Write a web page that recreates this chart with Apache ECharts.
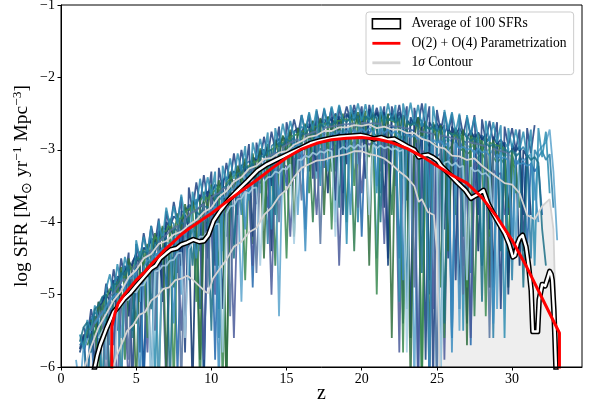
<!DOCTYPE html>
<html><head><meta charset="utf-8">
<script src="https://cdn.jsdelivr.net/npm/echarts@6.0.0/dist/echarts.min.js"></script>
<style>html,body{margin:0;padding:0;background:#fff}#c{width:595px;height:409px}</style>
</head><body><div id="c"></div>
<script>
// redshift sampling grid of the individual SFR curves
const zGrid = [1,1.25,1.5,1.75,2,2.25,2.5,2.75,3,3.25,3.5,3.75,4,4.25,4.5,4.75,5,5.25,5.5,5.75,6,6.25,6.5,6.75,7,7.25,7.5,7.75,8,8.25,8.5,8.75,9,9.25,9.5,9.75,10,10.25,10.5,10.75,11,11.25,11.5,11.75,12,12.25,12.5,12.75,13,13.25,13.5,13.75,14,14.25,14.5,14.75,15,15.25,15.5,15.75,16,16.25,16.5,16.75,17,17.25,17.5,17.75,18,18.25,18.5,18.75,19,19.25,19.5,19.75,20,20.25,20.5,20.75,21,21.25,21.5,21.75,22,22.25,22.5,22.75,23,23.25,23.5,23.75,24,24.25,24.5,24.75,25,25.25,25.5,25.75,26,26.25,26.5,26.75,27,27.25,27.5,27.75,28,28.25,28.5,28.75,29,29.25,29.5,29.75,30,30.25,30.5,30.75,31,31.25,31.5,31.75,32,32.25,32.5,32.75,33];

const sfrNavy = [null,-5.75,-5.55,-6.3, -5.35,-5.3,-5.85,-5.05, -5.0,-5.08,-6.3,-4.75, -4.78,-4.6,-5.3,-4.55, -4.45,-4.62,-6.2,-4.35, -4.25,-4.42,-4.2,-5.1, -4.15,-4.05,-4.22,-4.7, -3.98,-3.9,-4.07,-6.3, -3.82,-3.8,-3.72,-4.5, -3.62,-3.72,-3.55,-5.2, -3.42,-3.35,-3.47,-3.9, -3.22,-3.18,-3.27,-3.1, -3.75,-3.02,-3.0,-3.12, -4.4,-2.9,-2.85,-2.97, -2.82,-3.45,-2.75,-2.7, -2.82,-2.68,-3.3,-2.62, -2.7,-2.6,-2.73,-3.6, -2.58,-2.64,-2.55,-2.69, -3.2,-2.55,-2.5,-2.63, -2.52,-3.0,-2.5,-2.6, -2.48,-2.63,-3.8,-2.52, -2.5,-2.63,-2.55,-5.4, -2.58,-2.66,-2.58,-3.3, -2.62,-2.71,-6.3,-2.65, -2.73,-2.64,-4.1,-2.7, -2.79,-2.7,-5.2,-2.75, -2.83,-2.74,-2.86,-4.4, -2.82,-2.91,-2.82,-4.9, -2.9,-2.99,-2.9,-3.9, -2.95,-3.06,-4.6,-3.0, -3.1,-3.9,null,null, null,null,null,null, null];
const sfrBlue = [null,null,-5.8,-5.6, -5.5,-6.3,-5.3,-5.22, -5.28,-5.05,-5.7,-4.95, -4.88,-4.98,-4.78,-5.5, -4.68,-4.62,-6.3,-4.5, -4.58,-4.42,-4.5,-4.35, -4.9,-4.3,-4.22,-6.1, -4.15,-4.1,-4.22,-4.02, -4.12,-5.2,-3.95,-3.9, -3.8,-5.9,-3.7,-3.64, -3.7,-3.52,-4.3,-3.42, -3.38,-3.46,-3.3,-4.9, -3.22,-3.18,-3.28,-3.8, -3.12,-3.05,-3.02,-3.12, -3.5,-2.96,-2.9,-3.02, -2.88,-4.1,-2.83,-2.92, -2.8,-2.78,-3.25,-2.75, -2.85,-2.72,-2.72,-3.6, -2.7,-2.8,-2.68,-2.68, -4.2,-2.66,-2.78,-2.66, -2.68,-3.3,-2.66,-2.8, -2.68,-2.7,-4.5,-2.7, -2.84,-2.72,-2.74,-6.3, -2.76,-2.9,-5.0,-2.78, -2.8,-2.95,-2.82,-2.84, -5.6,-2.86,-3.0,-2.88, -2.9,-5.7,-2.92,-3.06, -2.95,-2.97,-4.6,-3.0, -3.14,-3.02,-3.05,-4.7, -3.08,-3.22,-3.12,-3.14, -4.4,-3.18,-3.3,-3.22, -3.9,null,null,null, null];
const sfrGreen = [null,null,null,-5.7, -5.55,-5.52,-5.38,-6.3, -5.22,-5.18,-5.08,-5.1, -4.95,-5.9,-4.85,-4.85, -5.4,-4.7,-4.7,-4.6, -4.6,-4.5,-6.3,-4.43, -4.45,-4.32,-4.9,-4.28, -4.3,-4.17,-4.24,-4.1, -4.16,-6.3,-3.98,-4.02, -3.88,-3.9,-4.6,-3.72, -6.3,-3.6,-3.66,-3.5, -3.55,-3.42,-3.46,-4.3, -3.3,-3.36,-3.22,-3.28, -3.16,-4.6,-3.1,-3.16, -3.02,-3.5,-3.0,-3.04, -2.94,-3.0,-2.9,-4.0, -2.86,-2.92,-2.84,-2.9, -3.3,-2.8,-2.86,-2.78, -2.84,-2.76,-4.4,-2.82, -2.75,-2.82,-3.1,-2.76, -2.82,-2.76,-2.84,-2.78, -3.9,-2.78,-2.86,-2.8, -2.88,-5.6,-2.84,-2.92, -6.3,-2.88,-2.95,-2.9, -2.97,-4.9,-2.93,-3.0, -2.95,-3.9,-3.02,-2.98, -3.06,-3.02,-5.3,-3.1, -3.05,-3.14,-4.2,-3.1, -3.18,-3.12,-3.2,-4.9, -3.18,-3.26,-3.8,null, null,null,null,null, null,null,null,null, null];
const sfrLight = [-5.9,-6.3,-5.72,-5.6, -5.48,-5.4,-5.3,-5.22, -5.9,-5.08,-5.0,-4.95, -5.6,-4.82,-4.75,-4.72, -4.65,-5.1,-4.6,-4.52, -4.45,-4.42,-6.3,-4.35, -4.28,-4.3,-4.2,-4.18, -5.0,-4.1,-4.08,-4.02, -3.98,-4.0,-6.3,-3.88, -3.8,-3.82,-3.7,-4.4, -3.58,-3.56,-3.48,-3.45, -5.1,-3.35,-3.32,-3.28, -3.22,-3.6,-3.15,-3.12, -3.1,-3.05,-5.3,-3.0, -2.98,-2.95,-2.92,-3.9, -2.86,-2.9,-2.8,-2.84, -3.4,-2.78,-2.76,-2.8, -2.74,-4.0,-2.72,-2.75, -2.7,-2.74,-2.69,-3.2, -2.66,-2.72,-2.65,-2.71, -4.5,-2.7,-2.73,-2.68, -2.72,-3.5,-2.7,-2.76, -2.74,-2.79,-6.3,-2.76, -2.8,-2.84,-2.79,-3.9, -6.3,-2.84,-2.88,-2.86, -2.88,-2.92,-5.5,-2.9, -2.94,-2.97,-2.93,-3.8, -2.96,-3.03,-2.99,-3.06, -5.2,-3.03,-3.09,-3.06, -3.1,-4.3,-3.1,-3.15, -3.1,-3.06,-3.7,-3.02, -2.95,-2.9,-2.72,-3.3, -4.25];
const sfrSlate = [null,null,null,null, -5.7,-5.58,-6.3,-5.45, -5.38,-5.28,-5.25,-6.3, -5.08,-5.1,-6.3,-4.92, -4.94,-4.82,-4.84,-5.8, -4.68,-4.7,-4.58,-4.62, -6.3,-4.48,-4.5,-4.4, -5.5,-4.33,-4.35,-4.23, -4.26,-4.18,-5.9,-4.14, -4.02,-5.0,-3.93,-3.92, -3.8,-3.82,-5.6,-3.66, -3.66,-3.56,-3.58,-4.6, -3.43,-3.46,-3.36,-3.39, -5.0,-3.26,-3.29,-3.2, -3.23,-4.2,-3.12,-3.15, -3.06,-3.1,-3.03,-3.06, -3.9,-2.98,-3.02,-2.96, -3.0,-2.93,-4.6,-2.97, -2.9,-2.95,-2.88,-2.94, -3.6,-2.88,-2.93,-2.9, -2.94,-2.9,-4.3,-2.95, -2.92,-2.97,-5.8,-2.94, -3.0,-2.97,-3.02,-6.3, -3.0,-3.07,-3.03,-5.2, -3.09,-3.05,-5.9,-3.12, -3.1,-3.16,-3.13,-4.6, -3.2,-5.6,-3.18,-3.24, -3.23,-3.28,-4.9,-3.28, -3.35,-3.32,-3.9,null, null,null,null,null, null,null,null,null, null,null,null,null, null];
const sfrTeal = [null,-5.65,-5.45,-5.38, -5.8,-5.2,-5.15,-5.03, -5.0,-6.3,-4.86,-4.85, -4.7,-4.73,-4.6,-5.6, -4.5,-4.52,-4.4,-4.43, -5.2,-4.28,-4.3,-4.2, -4.22,-6.3,-4.08,-4.12, -4.0,-4.04,-3.93,-4.6, -3.86,-3.9,-3.78,-3.79, -5.5,-3.64,-3.63,-3.53, -3.5,-3.43,-4.5,-3.33, -3.32,-3.23,-3.26,-3.18, -3.6,-3.08,-3.1,-3.02, -3.0,-3.9,-2.9,-2.94, -2.85,-2.89,-2.82,-3.3, -2.76,-2.79,-2.71,-2.74, -3.1,-2.64,-2.69,-2.62, -2.66,-2.6,-3.8,-2.58, -2.62,-2.55,-2.59,-2.53, -2.9,-2.54,-2.58,-2.52, -2.57,-4.0,-2.53,-2.6, -2.55,-2.62,-2.57,-3.4, -2.6,-2.66,-2.62,-2.68, -4.7,-2.65,-2.72,-2.68, -2.74,-2.7,-5.4,-2.74, -2.8,-2.76,-2.83,-4.2, -2.81,-2.88,-2.83,-2.92, -5.1,-2.9,-2.96,-2.92, -3.0,-4.4,-2.97,-3.05, -3.0,-3.09,-3.04,-4.9, -3.07,-3.14,-3.1,-3.18, -4.1,-4.6,null,null, null];
const sfrSteel = [null,null,null,null, null,-5.4,-5.32,-5.26, -5.17,-5.08,-5.03,-4.98, -6.3,-4.87,-4.78,-4.77, -4.68,-6.3,-4.62,-4.53, -4.52,-4.46,-4.42,-4.36, -4.37,-4.28,-5.4,-4.24, -4.16,-4.17,-4.08,-4.1, -4.5,-3.96,-3.98,-3.88, -3.87,-3.78,-6.3,-3.66, -3.64,-3.56,-3.55,-3.46, -3.47,-4.1,-3.33,-3.35, -3.26,-3.27,-3.18,-3.2, -3.12,-3.15,-3.7,-3.03, -3.05,-2.98,-2.99,-2.92, -2.95,-4.4,-2.86,-2.89, -2.82,-2.85,-2.8,-3.3, -2.76,-2.8,-2.74,-2.79, -2.73,-3.9,-2.72,-2.77, -2.71,-2.76,-2.7,-2.76, -3.5,-2.71,-2.77,-2.72, -2.78,-2.74,-2.8,-4.8, -2.78,-2.83,-2.8,-2.85, -2.82,-2.88,-6.3,-2.86, -2.9,-2.88,-2.95,-2.9, -5.8,-2.92,-2.98,-2.96, -3.0,-2.98,-3.05,-2.98, -3.04,-3.02,-3.08,-5.4, -3.06,-3.12,-3.1,-3.15, -4.2,-3.14,-3.2,-3.18, -3.22,-3.2,-3.5,-4.0, null,null,null,null, null];
const sfrPale = [null,null,null,null, null,null,-5.6,-5.5, -5.44,-5.34,-6.3,-5.2, -5.16,-5.08,-5.07,-4.96, -4.97,-4.88,-4.87,-4.76, -6.3,-4.68,-4.67,-4.6, -4.6,-4.53,-4.52,-4.43, -4.42,-5.6,-4.37,-4.28, -4.28,-4.2,-4.2,-4.13, -4.12,-4.03,-4.02,-5.8, -3.88,-3.78,-3.77,-3.68, -3.67,-3.58,-3.6,-3.53, -3.52,-4.6,-3.44,-3.38, -3.37,-3.3,-3.32,-3.26, -3.27,-3.2,-4.3,-3.14, -3.14,-3.08,-3.1,-3.04, -3.07,-3.02,-3.04,-3.0, -3.02,-4.2,-3.0,-2.96, -2.99,-2.94,-2.98,-2.93, -2.97,-2.93,-3.9,-2.93, -2.98,-2.94,-2.98,-2.96, -3.0,-2.98,-3.02,-3.0, -5.8,-3.02,-3.07,-3.04, -3.1,-3.08,-3.14,-3.1, -3.16,-6.3,-3.18,-3.16, -3.22,-3.18,-3.24,-3.22, -4.8,-3.24,-3.3,-3.28, -3.34,-3.32,-3.38,-4.0, null,null,null,null, null,null,null,null, null,null,null,null, null,null,null,null, null];
const sfrDeep = [null,-5.8,-5.6,-5.45, -5.38,-5.95,-5.15,-5.12, -4.95,-4.98,-4.8,-5.5, -4.68,-4.7,-4.55,-4.6, -4.42,-5.8,-4.35,-4.4, -4.22,-4.27,-4.12,-4.9, -4.0,-4.06,-3.92,-3.97, -4.6,-3.8,-3.84,-3.72, -3.75,-3.62,-6.2,-3.58, -3.6,-3.48,-3.52,-3.42, -4.2,-3.35,-3.3,-3.36, -3.22,-3.27,-3.6,-3.1, -3.15,-3.03,-3.08,-2.96, -3.5,-2.9,-2.95,-2.84, -2.86,-2.76,-3.4,-2.72, -2.75,-2.66,-2.7,-2.6, -3.3,-2.58,-2.64,-2.55, -2.6,-2.5,-2.58,-3.9, -2.5,-2.58,-2.46,-2.56, -2.48,-3.4,-2.44,-2.55, -2.5,-2.58,-2.48,-4.6, -2.52,-2.6,-2.48,-2.62, -3.7,-2.55,-2.65,-2.56, -2.6,-5.9,-2.62,-2.7, -2.64,-2.73,-2.66,-4.5, -2.68,-2.78,-2.7,-2.8, -5.4,-2.74,-2.84,-2.76, -2.86,-2.78,-4.1,-2.82, -2.92,-2.86,-2.95,-5.0, -2.92,-3.02,-2.95,-3.9, -3.1,null,null,null, null,null,null,null, null];
const sfrGreen2 = [null,null,-5.7,-5.5, -5.45,-5.3,-6.3,-5.15, -5.05,-4.92,-4.95,-4.82, -6.3,-4.7,-4.62,-4.66, -4.52,-4.48,-4.38,-5.6, -4.32,-4.2,-4.25,-4.14, -4.12,-4.0,-6.3,-3.95, -3.95,-3.85,-3.82,-3.78, -5.1,-3.7,-3.63,-3.68, -3.6,-3.56,-3.5,-6.3, -3.46,-3.4,-3.36,-3.33, -3.3,-4.8,-3.22,-3.18, -3.16,-3.12,-3.9,-3.02, -3.0,-2.96,-2.94,-2.9, -4.5,-2.82,-2.8,-2.78, -2.76,-2.72,-3.6,-2.68, -2.68,-2.64,-2.65,-2.62, -4.1,-2.6,-2.6,-2.58, -2.58,-2.6,-3.5,-2.57, -2.56,-2.58,-2.56,-2.58, -5.0,-2.58,-2.6,-2.58, -2.6,-2.62,-2.6,-5.8, -2.64,-2.66,-2.64,-2.68, -6.3,-2.7,-2.7,-2.72, -2.74,-2.76,-5.6,-2.76, -2.78,-2.8,-2.8,-2.82, -4.9,-2.84,-2.85,-2.87, -2.88,-5.3,-2.9,-2.92, -2.94,-2.96,-2.98,-4.4, -3.0,-3.6,null,null, null,null,null,null, null,null,null,null, null];
const sfrCyan = [null,-5.7,-5.62,-6.3, -5.32,-5.25,-5.28,-5.05, -5.05,-5.7,-4.82,-4.76, -4.8,-4.62,-4.65,-5.2, -4.48,-4.5,-4.36,-4.35, -6.3,-4.2,-4.22,-4.08, -4.1,-3.98,-4.02,-4.7, -3.85,-3.86,-3.76,-3.8, -3.68,-4.4,-3.62,-3.58, -3.55,-3.5,-5.6,-3.42, -3.38,-3.4,-3.3,-3.32, -3.9,-3.2,-3.16,-3.2, -3.08,-3.1,-3.0,-4.3, -2.95,-2.9,-2.92,-2.82, -2.85,-3.5,-2.75,-2.76, -2.68,-2.72,-2.64,-3.1, -2.6,-2.66,-2.58,-2.62, -2.55,-3.3,-2.54,-2.58, -2.52,-2.58,-2.5,-4.0, -2.5,-2.57,-2.49,-2.58, -2.52,-3.6,-2.5,-2.6, -2.54,-2.62,-2.52,-2.65, -5.2,-2.58,-2.66,-2.6, -2.68,-2.62,-4.8,-2.64, -2.72,-2.66,-2.76,-2.68, -5.6,-2.72,-2.8,-2.74, -2.82,-4.7,-2.78,-2.85, -2.8,-2.9,-2.84,-5.6, -2.88,-2.95,-2.9,-2.98, -4.8,-2.94,-3.02,-2.96, -3.06,-4.5,-3.0,-3.1, -3.02,-3.14,-3.06,-3.8, null];
const sfrIndigo = [null,null,null,null, -5.5,-5.38,-5.3,-5.22, -6.3,-5.02,-4.98,-4.9, -4.82,-4.78,-5.9,-4.65, -4.6,-4.54,-4.5,-4.46, -4.38,-5.5,-4.28,-4.22, -4.18,-4.12,-4.08,-4.05, -6.3,-3.95,-3.9,-3.86, -3.84,-3.78,-3.75,-4.9, -3.66,-3.62,-3.6,-3.54, -3.52,-5.3,-3.44,-3.4, -3.37,-3.33,-3.3,-3.26, -4.7,-3.18,-3.14,-3.1, -3.07,-3.04,-4.0,-2.96, -2.93,-2.9,-2.88,-2.85, -3.7,-2.8,-2.78,-2.76, -2.74,-4.3,-2.7,-2.69, -2.68,-2.67,-2.66,-2.65, -2.65,-2.64,-2.64,-3.8, -2.63,-2.63,-2.64,-2.63, -2.64,-2.64,-3.2,-2.66, -2.67,-2.68,-2.68,-2.7, -2.7,-2.72,-4.9,-2.74, -2.75,-2.76,-2.77,-2.78, -6.3,-2.8,-2.81,-2.82, -2.84,-2.85,-2.86,-5.0, -2.88,-2.9,-2.91,-2.92, -2.94,-2.95,-5.6,-2.98, -3.0,-3.02,-3.03,-3.05, -4.2,null,null,null, null,null,null,null, null,null,null,null, null];
const sfrMidnight = [null,null,-5.45,-5.6, -5.2,-5.45,-5.1,-5.25, -4.85,-5.05,-4.65,-4.95, -4.5,-4.8,-4.42,-6.3, -4.3,-4.55,-4.15,-4.45, -4.05,-4.3,-3.95,-4.9, -3.85,-4.1,-3.72,-4.0, -3.65,-5.8,-3.52,-3.85, -3.45,-3.75,-3.35,-3.7, -3.3,-4.6,-3.25,-3.55, -3.18,-3.45,-3.05,-3.38, -3.0,-3.3,-2.92,-4.2, -2.9,-3.15,-2.82,-3.08, -2.75,-3.0,-2.68,-3.6, -2.62,-2.85,-2.58,-2.8, -2.52,-2.76,-2.5,-3.4, -2.46,-2.7,-2.44,-2.66, -2.42,-3.7,-2.4,-2.62, -2.4,-2.6,-2.38,-2.62, -2.4,-3.1,-2.38,-2.6, -2.42,-2.62,-2.4,-4.5, -2.4,-2.62,-2.38,-2.66, -2.4,-5.6,-2.42,-2.68, -2.36,-2.7,-2.4,-6.3, -2.45,-2.75,-2.48,-2.78, -2.5,-4.8,-2.52,-2.8, -2.55,-2.82,-2.52,-3.9, -2.58,-2.88,-2.6,-2.9, -2.62,-5.2,-2.68,-2.95, -2.7,-3.0,-2.72,-4.4, -2.7,-3.05,-2.66,null, null,null,null,null, null];
const sfrOcean = [null,-5.55,-5.75,-5.35, -5.5,-5.15,-5.35,-6.3, -4.92,-4.72,-5.0,-4.58, -4.85,-4.48,-4.7,-5.5, -4.25,-4.5,-4.2,-4.45, -4.05,-6.3,-3.98,-4.25, -3.8,-4.05,-3.78,-4.02, -3.62,-3.95,-4.8,-3.58, -3.82,-3.4,-3.7,-3.38, -3.62,-3.3,-5.2,-3.22, -3.45,-3.12,-3.4,-3.05, -3.3,-2.95,-3.7,-2.9, -3.12,-2.85,-3.1,-2.76, -4.1,-2.7,-2.95,-2.64, -2.88,-2.6,-2.82,-3.2, -2.52,-2.76,-2.48,-2.72, -2.44,-3.5,-2.42,-2.68, -2.4,-2.62,-2.38,-2.6, -4.3,-2.38,-2.6,-2.36, -2.6,-2.37,-2.62,-2.38, -3.6,-2.4,-2.64,-2.36, -2.6,-2.38,-5.1,-2.36, -2.62,-2.35,-2.66,-2.38, -2.68,-2.36,-3.8,-2.4, -2.7,-6.3,-2.45,-2.72, -2.48,-2.76,-2.5,-5.5, -2.52,-2.8,-2.55,-2.84, -4.6,-2.6,-2.88,-2.62, -2.9,-2.66,-5.6,-2.7, -2.98,-2.72,-3.0,-2.75, -3.1,-2.72,-4.6,-2.7, -3.1,-2.75,-3.6,null, null];
const sfrForest = [null,null,null,null, -5.35,-5.6,-5.1,-5.35, -5.05,-6.3,-4.85,-5.0, -4.62,-4.9,-4.5,-4.75, -6.3,-4.4,-4.62,-4.3, -4.5,-4.15,-4.4,-4.05, -6.1,-3.95,-4.2,-3.88, -4.1,-3.75,-4.0,-3.7, -3.92,-5.9,-3.58,-3.82, -3.48,-3.75,-3.42,-3.7, -6.3,-3.3,-3.58,-3.22, -3.45,-3.12,-3.4,-3.05, -3.35,-2.98,-4.5,-2.92, -3.2,-2.86,-3.1,-2.8, -3.05,-2.72,-4.2,-2.7, -2.92,-2.64,-2.88,-2.6, -2.84,-2.56,-3.9,-2.54, -2.78,-2.52,-2.76,-2.5, -4.0,-2.48,-2.74,-2.48, -2.72,-2.46,-4.6,-2.48, -2.74,-2.48,-2.75,-2.5, -5.6,-2.5,-2.78,-2.52, -2.8,-6.3,-2.82,-2.55, -2.85,-2.6,-5.9,-2.62, -2.9,-2.66,-2.92,-4.4, -2.95,-2.7,-2.96,-2.72, -5.7,-2.76,-3.0,-2.78, -3.05,-2.82,-4.9,-2.86, -3.12,-2.9,-3.15,-3.8, null,null,null,null, null,null,null,null, null,null,null,null, null];

// average of the 100 SFRs
const avgZ = [2.15,2.4,2.6,2.82,3.0,3.27,3.5,3.8,4.2,4.6,5.0,5.5,6.0,6.3,6.6,7.0,7.3,7.7,8.0,8.4,8.8,9.2,9.5,9.8,10.15,10.6,11.2,11.7,12.4,13.05,13.7,14.4,15.2,15.93,16.6,17.27,18.0,18.6,19.3,19.93,20.4,20.8,21.3,21.7,22.15,22.6,23.0,23.5,23.8,24.1,24.4,24.7,25.05,25.27,25.8,26.4,26.9,27.27,27.5,27.7,28.1,28.4,28.7,29.05,29.5,29.8,30.05,30.2,30.35,30.5,30.7,30.93,31.1,31.27,31.38,31.7,31.8,32.0,32.2,32.4,32.5,32.6,32.67,32.78,32.85,32.93];
const avgV = [-6.1,-5.85,-5.7,-5.58,-5.48,-5.35,-5.24,-5.17,-5.06,-4.98,-4.88,-4.76,-4.64,-4.6,-4.5,-4.43,-4.38,-4.36,-4.31,-4.28,-4.24,-4.27,-4.26,-4.18,-3.98,-3.84,-3.68,-3.57,-3.43,-3.29,-3.2,-3.13,-3.05,-2.98,-2.91,-2.87,-2.84,-2.82,-2.81,-2.8,-2.82,-2.85,-2.83,-2.86,-2.85,-2.9,-2.95,-3.0,-3.1,-3.08,-3.07,-3.1,-3.15,-3.22,-3.33,-3.46,-3.56,-3.67,-3.64,-3.62,-3.56,-3.74,-3.86,-3.99,-4.15,-4.3,-4.48,-4.46,-4.3,-4.22,-4.18,-4.34,-4.6,-4.94,-5.51,-5.51,-5.07,-4.86,-4.88,-4.75,-4.68,-4.72,-4.8,-5.21,-5.6,-6.1];

// O(2) + O(4) parametrization
const fitZ = [3.38,3.38,3.6,3.8,4.2,4.6,5.0,5.5,6.0,6.5,7.0,7.5,8.0,8.5,9.0,9.5,10.0,11.0,12.0,13.0,14.0,15.0,16.0,17.0,18.0,19.0,20.0,21.0,22.0,23.0,24.0,25.0,26.0,27.0,28.0,29.0,30.0,31.0,32.0,33.15,33.15];
const fitV = [-6.1,-5.44,-5.25,-5.12,-5.0,-4.9,-4.8,-4.7,-4.58,-4.47,-4.36,-4.27,-4.17,-4.09,-4.02,-3.95,-3.88,-3.72,-3.57,-3.42,-3.26,-3.11,-2.99,-2.91,-2.86,-2.84,-2.83,-2.85,-2.9,-2.98,-3.09,-3.22,-3.35,-3.46,-3.66,-3.93,-4.25,-4.63,-5.05,-5.53,-6.1];

// 1 sigma contour
const upperZ = [1.5,2.0,2.5,3.0,3.5,4.0,4.5,5.0,5.5,6.0,6.5,7.0,7.5,8.0,8.5,9.0,9.5,10.0,10.5,11.0,11.5,12.0,12.5,13.0,13.5,14.0,14.5,15.0,15.5,16.0,16.5,17.0,17.5,18.0,18.5,19.0,19.5,20.0,20.5,21.0,21.5,22.0,22.5,23.0,23.5,24.0,24.5,25.0,25.5,26.0,26.5,27.0,27.5,28.0,28.5,29.0,29.5,30.0,30.5,31.0,31.5,32.0,32.5,32.75,33.0];
const upperV = [-6.05,-5.72,-5.45,-5.27,-5.08,-4.95,-4.76,-4.66,-4.5,-4.44,-4.3,-4.26,-4.17,-4.13,-4.04,-3.97,-3.86,-3.8,-3.65,-3.57,-3.44,-3.38,-3.26,-3.22,-3.13,-3.11,-3.04,-3.02,-2.93,-2.88,-2.82,-2.8,-2.74,-2.74,-2.69,-2.69,-2.66,-2.67,-2.65,-2.7,-2.68,-2.72,-2.72,-2.77,-2.77,-2.85,-2.88,-2.96,-2.98,-3.08,-3.09,-3.14,-3.12,-3.22,-3.3,-3.38,-3.46,-3.48,-3.6,-3.9,-3.96,-3.78,-3.68,-4.1,-6.05];
const lowerZ = [1.5,3.3,3.7,4.0,4.4,4.8,5.2,5.6,6.0,6.4,6.8,7.2,7.6,8.0,8.4,8.8,9.2,9.6,9.8,10.1,10.5,11.0,11.5,12.0,12.5,13.0,13.5,14.0,14.5,15.0,15.5,16.0,16.5,17.0,17.5,18.0,18.5,19.0,19.5,20.0,20.5,21.0,21.5,22.0,22.5,23.0,23.5,23.8,24.0,24.4,24.8,25.0,25.2,33.2];
const lowerV = [-6.1,-6.1,-5.85,-5.7,-5.5,-5.42,-5.28,-5.24,-5.08,-5.02,-4.92,-4.9,-4.8,-4.78,-4.74,-4.8,-4.88,-4.96,-4.98,-4.78,-4.66,-4.52,-4.34,-4.27,-4.14,-4.08,-3.9,-3.8,-3.64,-3.55,-3.38,-3.25,-3.2,-3.15,-3.14,-3.1,-3.08,-3.06,-3.02,-3.02,-3.06,-3.08,-3.12,-3.2,-3.3,-3.38,-3.5,-3.72,-3.68,-3.86,-3.9,-4.4,-6.1,-6.1];

const xTicks = [0,5,10,15,20,25,30];

const FONT = '"Liberation Serif","Times New Roman",serif';
function pairs(xs, ys){ const out=[]; for(let i=0;i<xs.length;i++){ if(ys[i]!==null && ys[i]!==undefined) out.push([xs[i], ys[i]]); } return out; }

const spag = [
  [sfrNavy,'#08306b'],[sfrCyan,'#2a7fa8'],[sfrBlue,'#2166ac'],[sfrGreen,'#2e7d4f'],[sfrLight,'#5ba3cc'],
  [sfrMidnight,'#1c3f80'],[sfrDeep,'#123f7a'],[sfrSlate,'#4a5a9a'],[sfrForest,'#2f6e3e'],[sfrGreen2,'#3a8a50'],
  [sfrOcean,'#2b8cb0'],[sfrTeal,'#1b6f86'],[sfrIndigo,'#56739f'],[sfrSteel,'#3d8dc0'],[sfrPale,'#a6cde2']
];

const series = [];
series.push({type:'line', name:'fillU', data:pairs(upperZ,upperV), symbol:'none', silent:true,
  lineStyle:{width:0}, areaStyle:{color:'#eeeeee', opacity:1, origin:'start'}});
series.push({type:'line', name:'fillL', data:pairs(lowerZ,lowerV), symbol:'none', silent:true,
  lineStyle:{width:0}, areaStyle:{color:'#ffffff', opacity:1, origin:'start'}});
spag.forEach(([vals,col],k)=>{
  series.push({type:'line', name:'sfr'+k, data:pairs(zGrid,vals), symbol:'none', silent:true, color:col,
    lineStyle:{width:1.8, color:col, opacity:0.85}});
});
series.push({type:'line', name:'1σ Contour', data:pairs(upperZ,upperV), symbol:'none', silent:true, color:'#d3d3d3',
  lineStyle:{width:1.8, color:'#d3d3d3'}});
series.push({type:'line', name:'1σ Contour', data:pairs(lowerZ,lowerV), symbol:'none', silent:true, color:'#d3d3d3',
  lineStyle:{width:1.8, color:'#d3d3d3'}});
series.push({type:'line', name:'avgOutline', data:pairs(avgZ,avgV), symbol:'none', silent:true, color:'#000',
  lineStyle:{width:5.5, color:'#000', join:'round', cap:'round'}});
series.push({type:'line', name:'Average of 100 SFRs', data:pairs(avgZ,avgV), symbol:'none', silent:true, color:'#ffffff',
  lineStyle:{width:2.5, color:'#ffffff', join:'round', cap:'round'}});
series.push({type:'line', name:'O(2) + O(4) Parametrization', data:pairs(fitZ,fitV), symbol:'none', silent:true, color:'#ff0000',
  lineStyle:{width:3, color:'#ff0000'}});

const chart = echarts.init(document.getElementById('c'), null, {renderer:'canvas'});
chart.setOption({
  animation:false,
  backgroundColor:'#ffffff',
  grid:{left:61, right:13, top:5, bottom:42, show:true, borderColor:'#000', borderWidth:1, backgroundColor:'transparent', z:10, containLabel:false, outerBoundsMode:'none'},
  xAxis:{type:'value', min:0, max:34.65, interval:5, z:10,
    axisLine:{show:true, onZero:false, lineStyle:{color:'#000', width:1}},
    axisTick:{show:true, length:3.5, customValues:xTicks, lineStyle:{color:'#000'}},
    axisLabel:{customValues:xTicks, color:'#000', fontFamily:FONT, fontSize:14, margin:5},
    splitLine:{show:false},
    name:'z', nameLocation:'middle', nameGap:17, nameMoveOverlap:false, nameTextStyle:{fontFamily:FONT, fontSize:20, color:'#000'}},
  yAxis:{type:'value', min:-6, max:-1, interval:1, z:10,
    axisLine:{show:true, onZero:false, lineStyle:{color:'#000', width:1}},
    axisTick:{show:true, length:3.5, lineStyle:{color:'#000'}},
    axisLabel:{color:'#000', fontFamily:FONT, fontSize:14, margin:6, formatter:v=>String(v).replace('-','\u2212')},
    splitLine:{show:false},
    name:'{a|log SFR [M}{s|\u2299}{a| yr}{p|\u22121}{a| Mpc}{p|\u22123}{a|]}',
    nameLocation:'middle', nameGap:27, nameMoveOverlap:false,
    nameTextStyle:{fontFamily:FONT, fontSize:19.5, color:'#000',
      rich:{
        a:{fontFamily:FONT, fontSize:19.5, color:'#000', lineHeight:24, verticalAlign:'middle'},
        s:{fontFamily:FONT, fontSize:13.5, color:'#000', lineHeight:14, verticalAlign:'bottom'},
        p:{fontFamily:FONT, fontSize:13.5, color:'#000', lineHeight:14, verticalAlign:'top'}
      }}},
  legend:{orient:'vertical', left:366, top:12, padding:[4.8,7,4.8,5.6], itemWidth:28, itemHeight:9.8, itemGap:5.5,
    backgroundColor:'#ffffff', borderColor:'#cccccc', borderWidth:1, borderRadius:3, selectedMode:false,
    textStyle:{fontFamily:FONT, fontSize:13.6, color:'#000', padding:[0,0,0,6],
      rich:{i:{fontFamily:FONT, fontSize:13.6, fontStyle:'italic', color:'#000'}}},
    formatter:n=> n==='1σ Contour' ? '1{i|σ} Contour' : n,
    data:[
      {name:'Average of 100 SFRs', icon:'rect', itemStyle:{color:'#ffffff', borderColor:'#000', borderWidth:1.6}},
      {name:'O(2) + O(4) Parametrization', icon:'path://M0,0H30V3H0Z'},
      {name:'1σ Contour', icon:'path://M0,0H30V3H0Z'}
    ]},
  series:series
});
</script>
</body></html>
